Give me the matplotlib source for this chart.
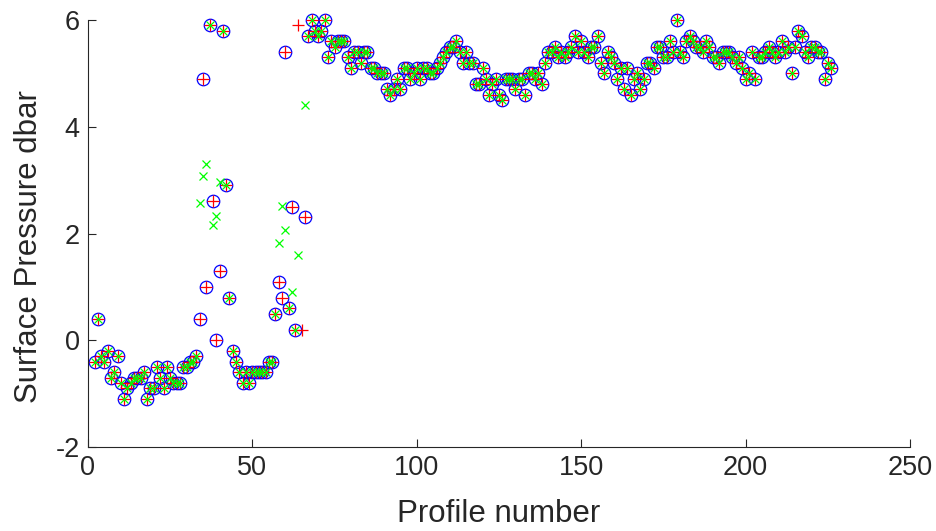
import numpy as np
import matplotlib.pyplot as plt

# surface pressure per profile (dbar)
profile = np.arange(2, 227)

pres_low = [-0.4, 0.4, -0.3, -0.4, -0.2, -0.7, -0.6, -0.3, -0.8, -1.1,
            -0.9, -0.8, -0.7, -0.7, -0.7, -0.6, -1.1, -0.9, -0.9, -0.5,
            -0.7, -0.9, -0.5, -0.7, -0.8, -0.8, -0.8, -0.5, -0.5, -0.4,
            -0.4, -0.3, 0.4, 4.9, 1.0, 5.9, 2.6, 0.0, 1.3, 5.8,
            2.9, 0.8, -0.2, -0.4, -0.6, -0.8, -0.6, -0.8, -0.6, -0.6,
            -0.6, -0.6, -0.6, -0.4, -0.4, 0.5, 1.1, 0.8, 5.4, 0.6,
            2.5, 0.2, np.nan, np.nan, 2.3]
pres_high = [5.7, 6.0, 5.8, 5.7, 5.8, 6.0, 5.3, 5.6, 5.5, 5.6,
             5.6, 5.6, 5.3, 5.1, 5.4, 5.4, 5.2, 5.4, 5.4, 5.1,
             5.1, 5.0, 5.0, 5.0, 4.7, 4.6, 4.7, 4.9, 4.7, 5.1,
             5.1, 4.9, 5.0, 5.1, 4.9, 5.1, 5.1, 5.0, 5.0, 5.1,
             5.2, 5.3, 5.4, 5.5, 5.5, 5.6, 5.4, 5.2, 5.4, 5.2,
             5.2, 4.8, 4.8, 5.1, 4.9, 4.6, 4.8, 4.9, 4.6, 4.5,
             4.9, 4.9, 4.9, 4.7, 4.9, 4.9, 4.6, 5.0, 5.0, 4.9,
             5.0, 4.8, 5.2, 5.4, 5.4, 5.5, 5.3, 5.4, 5.3, 5.4,
             5.5, 5.7, 5.4, 5.6, 5.4, 5.3, 5.5, 5.5, 5.7, 5.2,
             5.0, 5.4, 5.3, 5.2, 4.9, 5.1, 4.7, 5.1, 4.6, 4.9,
             5.0, 4.7, 4.9, 5.2, 5.2, 5.1, 5.5, 5.5, 5.3, 5.3,
             5.6, 5.4, 6.0, 5.4, 5.3, 5.6, 5.7, 5.6, 5.5, 5.5,
             5.4, 5.6, 5.5, 5.3, 5.3, 5.2, 5.4, 5.4, 5.4, 5.3,
             5.2, 5.3, 5.1, 4.9, 5.0, 5.4, 4.9, 5.3, 5.3, 5.4,
             5.5, 5.4, 5.3, 5.4, 5.6, 5.4, 5.5, 5.0, 5.5, 5.8,
             5.7, 5.4, 5.3, 5.5, 5.5, 5.4, 5.4, 4.9, 5.2, 5.1]
pres_adj = np.array(pres_low + pres_high)

# raw values: same except profiles 64 and 65
pres_raw = pres_adj.copy()
pres_raw[profile == 64] = 5.9
pres_raw[profile == 65] = 0.2

# third estimate differs around the bad profiles
alt_profiles = [34, 35, 36, 38, 39, 40, 58, 59, 60, 62, 64, 66]
alt_values = [2.58, 3.07, 3.3, 2.16, 2.33, 2.97, 1.83, 2.52, 2.07, 0.91, 1.6, 4.4]
pres_alt = pres_adj.copy()
for p, v in zip(alt_profiles, alt_values):
    pres_alt[profile == p] = v

plt.rcParams['font.family'] = ['Liberation Sans', 'DejaVu Sans']
plt.rcParams['axes.unicode_minus'] = False

fig = plt.figure(figsize=(9.37, 5.31), dpi=100)
ax = fig.add_axes([0.0939, 0.1582, 0.8773, 0.8041])

ax.plot(profile, pres_adj, 'o', mfc='none', mec=(0, 0, 1), ms=9, mew=0.9,
        clip_on=False)
ax.plot(profile, pres_raw, '+', color=(1, 0, 0), ms=9, mew=0.9, clip_on=False)
ax.plot(profile, pres_alt, 'x', color=(0, 1, 0), ms=6, mew=0.9, clip_on=False)

ax.set_xlim(0, 250)
ax.set_ylim(-2, 6)
ax.set_xticks([0, 50, 100, 150, 200, 250])
ax.set_yticks([-2, 0, 2, 4, 6])
for s in ['top', 'right']:
    ax.spines[s].set_visible(False)
for s in ['left', 'bottom']:
    ax.spines[s].set_color('0.15')
    ax.spines[s].set_linewidth(0.8)
ax.tick_params(direction='in', length=6, width=0.8, colors='0.15',
               labelsize=19.5, pad=6)
ax.set_xlabel('Profile number', fontsize=22.5, color='0.15', labelpad=13)
ax.set_ylabel('Surface Pressure dbar', fontsize=22.5, color='0.15', labelpad=0)
ax.yaxis.set_label_coords(-0.054, 0.47)

fig.savefig('out.png', dpi=100)
